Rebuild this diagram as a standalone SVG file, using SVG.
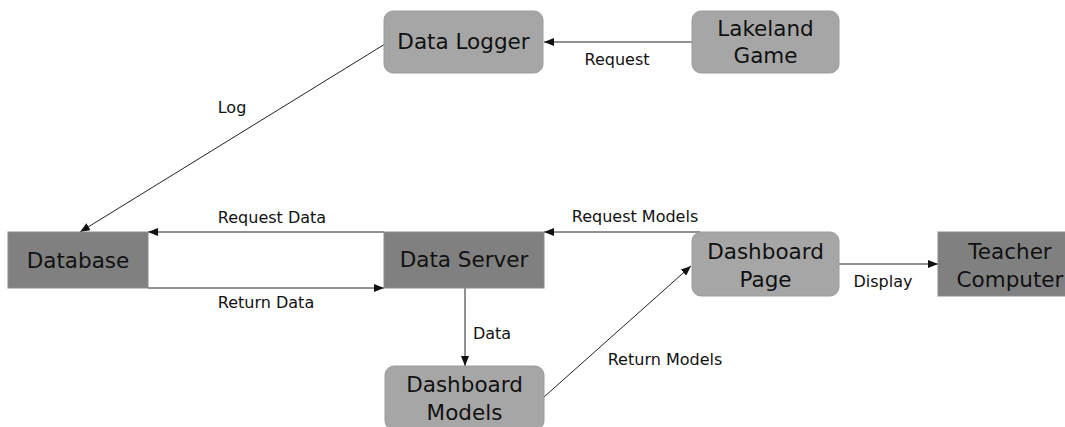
<svg xmlns="http://www.w3.org/2000/svg" width="1065" height="427" viewBox="0 0 1065 427">
<defs>
<style>
.light{fill:#a6a6a6;stroke:#9c9c9c;stroke-width:1}
.dark{fill:#808080;stroke:#8c8c8c;stroke-width:1}
.nt{font-family:"DejaVu Sans",sans-serif;font-size:21.5px;fill:#111;text-anchor:middle}
.lt{font-family:"DejaVu Sans",sans-serif;font-size:16px;fill:#111;text-anchor:middle}
.c{stroke:#222;stroke-width:1;fill:none;marker-end:url(#ah)}
</style>
<marker id="ah" viewBox="0 0 10 8" refX="10" refY="4" markerWidth="10" markerHeight="8" markerUnits="userSpaceOnUse" orient="auto">
<path d="M0,0 L10,4 L0,8 Z" fill="#111"/>
</marker>
</defs>
<rect width="1065" height="427" fill="#fff"/>
<g id="connectors">
<line class="c" x1="692" y1="42" x2="544" y2="42"/>
<line class="c" x1="385" y1="44" x2="80" y2="232"/>
<line class="c" x1="384" y1="232" x2="148" y2="232"/>
<line class="c" x1="148" y1="288" x2="384" y2="288"/>
<line class="c" x1="700" y1="232" x2="544" y2="232"/>
<line class="c" x1="465" y1="288" x2="465" y2="366"/>
<line class="c" x1="544" y1="397" x2="691" y2="266"/>
<line class="c" x1="839" y1="264" x2="938" y2="264"/>
<text class="lt" x="617" y="65">Request</text>
<text class="lt" x="232" y="113">Log</text>
<text class="lt" x="272" y="223">Request Data</text>
<text class="lt" x="266" y="308">Return Data</text>
<text class="lt" x="635" y="222">Request Models</text>
<text class="lt" x="492" y="339">Data</text>
<text class="lt" x="665" y="365">Return Models</text>
<text class="lt" x="883" y="287">Display</text>
</g>
<g id="data-logger">
<rect class="light" x="384" y="11" width="159" height="62" rx="9"/>
<text class="nt" x="463.5" y="49">Data Logger</text>
</g>
<g id="lakeland-game">
<rect class="light" x="692" y="11" width="147" height="62" rx="9"/>
<text class="nt" x="765.5" y="36">Lakeland</text>
<text class="nt" x="765.5" y="63">Game</text>
</g>
<g id="database">
<rect class="dark" x="8" y="232" width="140" height="56"/>
<text class="nt" x="78" y="268">Database</text>
</g>
<g id="data-server">
<rect class="dark" x="384" y="232" width="160" height="56"/>
<text class="nt" x="464" y="267">Data Server</text>
</g>
<g id="dashboard-page">
<rect class="light" x="692" y="232" width="147" height="64" rx="9"/>
<text class="nt" x="765.5" y="259">Dashboard</text>
<text class="nt" x="765.5" y="287">Page</text>
</g>
<g id="teacher-computer">
<rect class="dark" x="938" y="232" width="147" height="64"/>
<text class="nt" x="1010" y="259">Teacher</text>
<text class="nt" x="1010" y="287">Computer</text>
</g>
<g id="dashboard-models">
<rect class="light" x="385" y="366" width="159" height="64" rx="9"/>
<text class="nt" x="464.5" y="392">Dashboard</text>
<text class="nt" x="464.5" y="420">Models</text>
</g>
</svg>
